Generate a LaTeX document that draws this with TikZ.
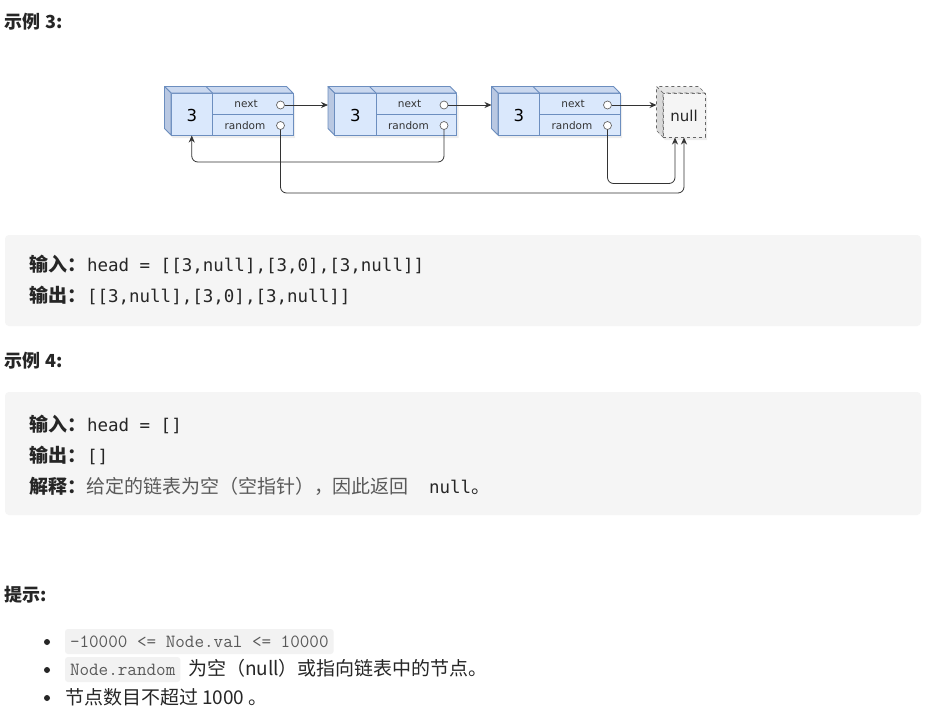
\documentclass[tikz,border=0pt]{standalone}
\usepackage{fontspec}
\setmainfont{Noto Sans CJK SC}
\newfontfamily\codemono{DejaVu Sans Mono}
\newfontfamily\diag{DejaVu Sans}
\setmonofont{Latin Modern Mono}
\usetikzlibrary{arrows.meta}
\definecolor{boxfill}{HTML}{DAE8FC}
\definecolor{boxline}{HTML}{6C8EBF}
\definecolor{boxtop}{HTML}{CAD8EF}
\definecolor{boxleft}{HTML}{B9C8E2}
\definecolor{nullfill}{HTML}{F5F5F5}
\definecolor{nullline}{HTML}{666666}
\definecolor{nulltop}{HTML}{E6E6E6}
\definecolor{nullleft}{HTML}{D9D9D9}
\definecolor{ink}{HTML}{262626}
\definecolor{wire}{HTML}{333333}
\definecolor{soft}{HTML}{595959}
\definecolor{codebgc}{HTML}{F5F5F5}
\definecolor{icodebgc}{HTML}{F2F2F2}
\begin{document}
\begin{tikzpicture}[x=1pt,y=-1pt,
  every node/.style={inner sep=0pt,outer sep=0pt},
  front/.style={draw=boxline,fill=boxfill,line width=0.8pt,minimum width=122pt,minimum height=42pt,anchor=north west},
  face/.style={draw=boxline,line width=0.8pt,line join=round},
  shadowc/.style={fill=black,opacity=0.07},
  valt/.style={font=\diag\fontsize{16.5}{18}\selectfont,text=black},
  fieldt/.style={font=\diag\fontsize{10.5}{12}\selectfont,text=wire,text height=7.5pt,text depth=0pt},
  port/.style={circle,draw=nullline,fill=white,minimum size=8pt,line width=0.7pt},
  arr/.style={draw=wire,line width=0.8pt,-{Stealth[length=7pt,width=6pt]}},
  nullfront/.style={draw=nullline,fill=nullfill,dashed,line width=0.7pt,minimum width=42pt,minimum height=44pt,anchor=north west},
  nullface/.style={draw=nullline,dashed,line width=0.7pt,line join=round},
  nullt/.style={font=\diag\fontsize{15}{17}\selectfont,text=ink},
  hdr/.style={anchor=base west,font=\bfseries\fontsize{18}{21}\selectfont,text=ink},
  codebg/.style={fill=codebgc,rounded corners=4pt,anchor=north west,minimum width=916pt},
  lbl/.style={anchor=base west,font=\bfseries\fontsize{19}{22}\selectfont,text=ink},
  codet/.style={anchor=base west,font=\codemono\fontsize{17.5}{20}\selectfont,text=ink},
  graytxt/.style={anchor=base west,font=\fontsize{19}{22}\selectfont,text=soft},
  bodyt/.style={anchor=base west,font=\fontsize{19}{22}\selectfont,text=ink},
  bullet/.style={circle,fill=ink,minimum size=6pt},
  icode/.style={anchor=west,fill=icodebgc,rounded corners=3pt,inner xsep=5pt,minimum height=25pt,text height=12.5pt,text depth=0.5pt,font=\ttfamily\fontsize{18.6}{21}\selectfont,text=soft}]
\useasboundingbox (0,0) rectangle (935,716);
\fill[white] (0,0) rectangle (935,716);

% headers
\node[hdr] (hd3) at (5,28) {示例 3:};
\node[hdr] (hd4) at (5,367.5) {示例 4:};
\node[hdr] (hdt) at (5,601) {提示:};

% linked list boxes
\foreach \i/\L in {1/171,2/334.5,3/498}{
  \fill[shadowc] (\L-4.5,89.5) -- (\L+117.5,89.5) -- (\L+124,96) -- (\L+124,138) -- (\L+2,138) -- (\L-4.5,131.5) -- cycle;
  \node[front] (b\i) at (\L,93) {};
  \draw[face,fill=boxtop] (\L,93) -- (\L-6.5,86.5) -- (\L+115.5,86.5) -- (\L+122,93) -- cycle;
  \draw[face,fill=boxleft] (\L,93) -- (\L-6.5,86.5) -- (\L-6.5,128.5) -- (\L,135) -- cycle;
  \draw[face] (\L+41.5,93) -- (\L+35,86.5);
  \draw[face] (\L+41.5,93) -- (\L+41.5,135);
  \draw[face] (\L+41.5,114) -- (\L+122,114);
  \node[valt] (v\i) at (\L+20.75,115) {3};
  \node[fieldt] (nx\i) at (\L+75,104) {next};
  \node[fieldt] (rd\i) at (\L+74,125.5) {random};
  \node[port] (cn\i) at (\L+109.5,105) {};
  \node[port] (cr\i) at (\L+109.5,125.5) {};
  \coordinate (k\i) at (\L-6.5,105);
}

% null box
\fill[shadowc] (658.5,89.5) -- (700.5,89.5) -- (707,96) -- (707,140) -- (665,140) -- (658.5,133.5) -- cycle;
\node[nullfront] (nl) at (663,93) {};
\draw[nullface,fill=nulltop] (663,93) -- (656.5,86.5) -- (698.5,86.5) -- (705,93) -- cycle;
\draw[nullface,fill=nullleft] (663,93) -- (656.5,86.5) -- (656.5,130.5) -- (663,137) -- cycle;
\node[nullt] (nt) at (684,116) {null};
\coordinate (knull) at (656.5,105);
\coordinate (nb1) at (675,137.5);
\coordinate (nb2) at (684,137.5);
\coordinate (in1) at (191.75,135.5);

% next pointers
\draw[arr] (cn1.east) -- (k2);
\draw[arr] (cn2.east) -- (k3);
\draw[arr] (cn3.east) -- (knull);

% random pointers
\draw[arr,rounded corners=6pt] (cr1.south) -- ++(0,63.5) -| (nb2);
\draw[arr,rounded corners=6pt] (cr2.south) -- ++(0,32.5) -| (in1);
\draw[arr,rounded corners=6pt] (cr3.south) -- ++(0,54) -| (nb1);

% code block 1
\node[codebg,minimum height=91pt] (cb1) at (5,235) {};
\node[lbl] (in3) at (29,271.5) {输入：};
\node[codet] (in3v) at (87,271.5) {head = [[3,null],[3,0],[3,null]]};
\node[lbl] (out3) at (29,302.5) {输出：};
\node[codet] (out3v) at (87,302.5) {[[3,null],[3,0],[3,null]]};

% code block 2
\node[codebg,minimum height=123pt] (cb2) at (5,392) {};
\node[lbl] (in4) at (29,431.5) {输入：};
\node[codet] (in4v) at (87,431.5) {head = []};
\node[lbl] (out4) at (29,462.5) {输出：};
\node[codet] (out4v) at (87,462.5) {[]};
\node[lbl] (ex4) at (29,493.5) {解释：};
\node[graytxt] (ex4v) at (86,493.5) {给定的链表为空（空指针），因此返回};
\node[codet] (ex4n) at (429,493.5) {null};
\node[bodyt] (ex4d) at (471,493.5) {。};

% hints
\node[bullet] (d1) at (47,642) {};
\node[bullet] (d2) at (47,670) {};
\node[bullet] (d3) at (47,698) {};
\node[icode] (t1) at (65,641.5) {-10000 <= Node.val <= 10000};
\node[icode] (t2) at (65,669.5) {Node.random};
\node[bodyt] (t2b) at (188,675.5) {为空（null）或指向链表中的节点。};
\node[bodyt] (t3) at (65,704.5) {节点数目不超过 1000 。};
\end{tikzpicture}
\end{document}
